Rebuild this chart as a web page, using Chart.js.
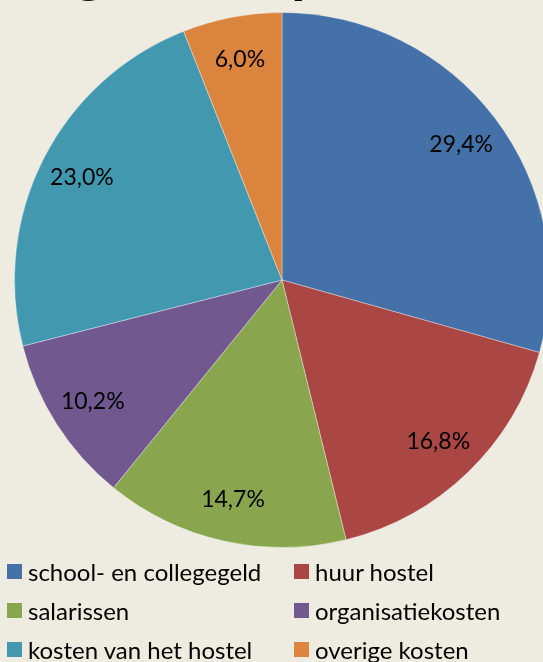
<!DOCTYPE html>
<html lang="nl">
<head>
<meta charset="utf-8">
<title>Uitgaven</title>
<script src="https://cdn.jsdelivr.net/npm/chart.js@4.4.1/dist/chart.umd.min.js"></script>
<style>
  html, body {
    margin: 0;
    padding: 0;
    width: 543px;
    height: 662px;
    overflow: hidden;
    background: #EEECE1;
    font-family: Lato, "Open Sans", sans-serif;
  }
  #title {
    position: absolute;
    z-index: 2;
    left: 0;
    width: 543px;
    top: -62px;
    height: 66px;
    line-height: 66px;
    margin: 0;
    text-align: center;
    font-weight: bold;
    font-size: 48px;
    font-family: "Open Sans", sans-serif;
    color: #000;
    white-space: nowrap;
  }
  #chartBox {
    position: absolute;
    left: 0;
    top: 0;
    width: 564px;
    height: 560px;
  }
  #legend {
    position: absolute;
    left: 7px;
    top: 555px;
    display: grid;
    grid-template-columns: 287px auto;
    row-gap: 6px;
    font-size: 24px;
    color: #000;
  }
  .item {
    display: flex;
    align-items: center;
    height: 33px;
    white-space: nowrap;
  }
  .box {
    width: 15px;
    height: 15px;
    margin-right: 6px;
    flex: none;
  }
</style>
</head>
<body>
<h1 id="title">Uitgaven in procenten</h1>
<div id="chartBox"><canvas id="pieChart"></canvas></div>
<div id="legend"></div>

<script>
// Dati del grafico
const categories = [
  'school- en collegegeld',
  'huur hostel',
  'salarissen',
  'organisatiekosten',
  'kosten van het hostel',
  'overige kosten'
];
const shares = [29.4, 16.8, 14.7, 10.2, 23.0, 6.0];
const labels = ['29,4%', '16,8%', '14,7%', '10,2%', '23,0%', '6,0%'];
const colors = ['#4472A8', '#AA4643', '#89A54E', '#71588F', '#4198AF', '#DB843D'];

// Etichette percentuali dentro le fette
const sliceLabels = {
  id: 'sliceLabels',
  afterDatasetsDraw(chart) {
    const ctx = chart.ctx;
    const meta = chart.getDatasetMeta(0);
    ctx.save();
    ctx.fillStyle = '#000';
    ctx.font = '23px Lato, "Open Sans", sans-serif';
    ctx.textAlign = 'center';
    ctx.textBaseline = 'middle';
    meta.data.forEach((arc, i) => {
      const p = arc.getProps(['x', 'y', 'startAngle', 'endAngle', 'outerRadius'], true);
      const mid = (p.startAngle + p.endAngle) / 2;
      const r = p.outerRadius * 0.84;
      ctx.fillText(labels[i], p.x + Math.cos(mid) * r, p.y + Math.sin(mid) * r);
    });
    ctx.restore();
  }
};

new Chart(document.getElementById('pieChart').getContext('2d'), {
  type: 'pie',
  data: {
    labels: categories,
    datasets: [{
      data: shares,
      backgroundColor: colors,
      borderColor: 'rgba(255,255,255,0.35)',
      borderWidth: 1
    }]
  },
  options: {
    responsive: true,
    maintainAspectRatio: false,
    animation: false,
    layout: { padding: { top: 12, bottom: 12, left: 14, right: 14 } },
    plugins: {
      legend: { display: false },
      tooltip: { enabled: false }
    }
  },
  plugins: [sliceLabels]
});

// Legenda in due colonne
const legendEl = document.getElementById('legend');
categories.forEach((name, i) => {
  const item = document.createElement('div');
  item.className = 'item';
  const box = document.createElement('span');
  box.className = 'box';
  box.style.background = colors[i];
  item.appendChild(box);
  item.appendChild(document.createTextNode(name));
  legendEl.appendChild(item);
});
</script>
</body>
</html>
